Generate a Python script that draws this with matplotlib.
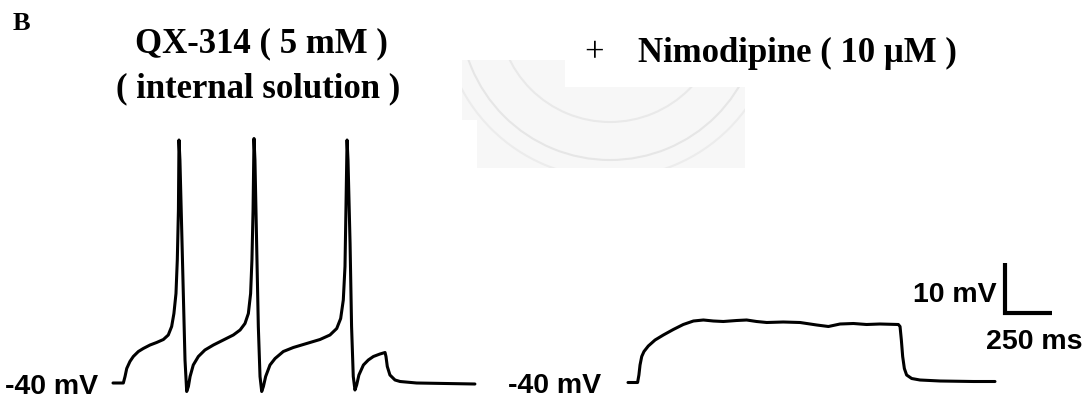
import matplotlib
matplotlib.use("Agg")
import matplotlib.pyplot as plt
from matplotlib.patches import Polygon, Arc

# trace 1: QX-314 internal solution (time in ms from trace start, membrane potential in mV)
qx_t = [0, 55, 64, 73, 90, 108, 135, 161, 197, 232, 268, 294, 312, 324, 335, 342, 348, 351,
        356, 365, 374, 383, 392,
        401, 410, 427, 454, 489, 534, 587, 640, 676, 702, 720, 732, 739, 745, 750,
        755, 764, 773, 782, 791,
        800, 812, 835, 862, 906, 959, 1030, 1101, 1154, 1190, 1211, 1225, 1234, 1239, 1245,
        1250, 1261, 1269, 1278, 1287,
        1296, 1308, 1332, 1358, 1385, 1420, 1447, 1452, 1459, 1473, 1500, 1527, 1615, 1925]
qx_v = [-40, -40, -38.7, -37.1, -35.7, -34.7, -33.7, -33.1, -32.4, -31.9, -31.3, -30.4, -28.7, -26.1, -22.1, -15.4, -5.4, 8.6,
        4.6, -8.7, -22.1, -35.4, -41.7,
        -40.7, -38.7, -36.4, -34.7, -33.4, -32.4, -31.4, -30.4, -29.4, -28.1, -26.1, -22.1, -15.4, -5.4, 8.9,
        4.6, -12.1, -28.7, -38.7, -41.7,
        -40.7, -38.7, -36.4, -35.1, -33.7, -32.9, -32.1, -31.3, -30.4, -29.1, -27.1, -23.4, -16.7, -5.4, 8.6,
        4.6, -12.1, -28.7, -38.7, -41.4,
        -40.4, -38.4, -36.4, -35.4, -34.7, -34.2, -33.9, -34.7, -36.7, -38.4, -39.4, -39.7, -40, -40.2]

# trace 2: + nimodipine
nimo_t = [0, 51, 58, 64, 73, 85, 108, 144, 188, 241, 294, 348, 401, 454, 507, 578,
          631, 684, 738, 826, 915, 1004, 1066, 1128, 1199, 1269, 1340, 1438, 1447,
          1454, 1461, 1470, 1482, 1509, 1553, 1660, 1837, 1952]
nimo_v = [-39.9, -39.9, -38.4, -36.4, -34.7, -33.7, -32.6, -31.4, -30.4, -29.3, -28.3, -27.6, -27.4, -27.6, -27.7, -27.5,
          -27.4, -27.7, -27.9, -27.8, -27.9, -28.4, -28.7, -28.2, -28.1, -28.3, -28.2, -28.3, -28.7,
          -31.4, -34.7, -37.1, -38.4, -39.1, -39.4, -39.6, -39.7, -39.7]

scale_mv = 10
scale_ms = 250

W, H = 1091, 401
ms_per_px = 250 / 47.0
mv_per_px = 10 / 50.0

fig = plt.figure(figsize=(W / 100, H / 100), dpi=100)

# faint watermark behind everything
wm = fig.add_axes([0, 0, 1, 1], zorder=0)
wm.set_xlim(0, W)
wm.set_ylim(H, 0)
wm.axis("off")
region = Polygon([(462, 60), (565, 60), (565, 87), (745, 87), (745, 168), (477, 168), (477, 120), (462, 120)],
                 closed=True, facecolor="#f7f7f7", edgecolor="none")
wm.add_patch(region)
for r, c in [(150, "#e6e6e6"), (168, "#ececec"), (112, "#e9e9e9")]:
    a = Arc((610, 10), 2 * r, 2 * r, theta1=0, theta2=360, color=c, lw=1.5)
    wm.add_patch(a)
    a.set_clip_path(region)

ax = fig.add_axes([0, 0, 1, 1], zorder=1)
ax.patch.set_alpha(0)
ax.axis("off")
ax.set_xlim(0, W * ms_per_px)
ax.set_ylim(-40 - (H - 383) * mv_per_px, -40 + 383 * mv_per_px)

x0_left = 113 * ms_per_px
x0_right = 628 * ms_per_px
ax.plot([x0_left + t for t in qx_t], qx_v, color="black", lw=2.2,
        solid_joinstyle="round", solid_capstyle="round")
ax.plot([x0_right + t for t in nimo_t], nimo_v, color="black", lw=2.2,
        solid_joinstyle="round", solid_capstyle="round")

# scale bar
sb_x = 1005 * ms_per_px
sb_y = -26
ax.plot([sb_x, sb_x, sb_x + scale_ms], [sb_y + scale_mv, sb_y, sb_y], color="black", lw=3,
        solid_joinstyle="miter", solid_capstyle="butt")


def px_text(x, y, s, **kw):
    fig.text(x / W, 1 - y / H, s, va="baseline", **kw)


serif = dict(family="Liberation Serif", weight="bold")
sans = dict(family="Liberation Sans", weight="bold")

px_text(13, 30, "B", fontsize=19, **serif)
px_text(261, 52, "QX-314 ( 5 mM )", fontsize=25, ha="center", **serif)
px_text(258, 97, "( internal solution )", fontsize=25, ha="center", **serif)
px_text(594, 62, "+", fontsize=25, ha="center", family="Liberation Serif")
px_text(638, 62, "Nimodipine ( 10 μM )", fontsize=25, ha="left", **serif)

px_text(5, 394, "-40 mV", fontsize=20.5, ha="left", **sans)
px_text(508, 393, "-40 mV", fontsize=20.5, ha="left", **sans)
px_text(997, 302, "10 mV", fontsize=20.5, ha="right", **sans)
px_text(1082, 349, "250 ms", fontsize=20.5, ha="right", **sans)

fig.savefig("out.png", dpi=100, facecolor="white")
